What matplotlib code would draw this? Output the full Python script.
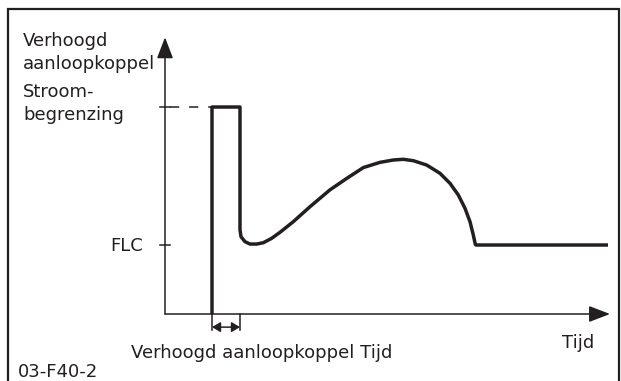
import matplotlib
matplotlib.use("Agg")
import matplotlib.pyplot as plt
from matplotlib.patches import Rectangle

# levels (multiples of full load current) and times (arbitrary units)
flc = 1.0
current_limit = 3.0
boost_start = 4.7
boost_end = 7.5

# torque / current trace during start-up
curve_t = [4.7, 4.7, 7.5, 7.5, 7.6, 8.0, 8.5, 9.17, 9.83, 10.67, 11.5, 12.83,
           14.5, 16.5, 18.17, 19.83, 21.5, 22.83, 23.83, 24.83, 26.17, 27.5,
           28.5, 29.33, 30.0, 30.5, 30.83, 31.03, 31.1, 44.3]
curve_y = [0.0, 3.0, 3.0, 1.22, 1.12, 1.048, 1.014, 1.014, 1.033, 1.097, 1.184,
           1.338, 1.555, 1.8, 1.965, 2.122, 2.198, 2.232, 2.242, 2.222, 2.159,
           2.039, 1.894, 1.725, 1.532, 1.338, 1.145, 1.01, 1.0, 1.0]

x_axis_end = 44.5
y_axis_end = 4.01

ink = "#231f20"
plt.rcParams['font.family'] = ['DejaVu Sans']
fs = 13

fig = plt.figure(figsize=(6.21, 3.81), dpi=100)
ax = fig.add_axes([0, 0, 1, 1])
ax.set_xlim(-16.5, 45.6)
ax.set_ylim(-0.971, 4.551)
ax.axis("off")

# outer frame (open at the bottom)
fig.patches.append(Rectangle((8 / 621, -0.1), 611 / 621, 1.1 - 9 / 381,
                             transform=fig.transFigure, fill=False,
                             lw=1.6, edgecolor=ink))

# axes with arrow heads
arrow = dict(arrowstyle="-|>,head_length=1.3,head_width=0.5",
             mutation_scale=10, lw=1.1, color=ink, shrinkA=0, shrinkB=0)
ax.annotate("", xy=(0, y_axis_end), xytext=(0, 0), arrowprops=arrow)
ax.annotate("", xy=(x_axis_end, 0), xytext=(0, 0), arrowprops=arrow)

# ticks on the y axis
for lvl in (flc, current_limit):
    ax.plot([-0.5, 0.5], [lvl, lvl], color=ink, lw=1.1)
ax.plot([0.5, boost_start], [current_limit, current_limit], color=ink, lw=1.1,
        dashes=(6, 6.5))

# boost time marker below the axis
for t in (boost_start, boost_end):
    ax.plot([t, t], [0, -0.23], color=ink, lw=1.1)
ax.annotate("", xy=(boost_end, -0.19), xytext=(boost_start, -0.19),
            arrowprops=dict(arrowstyle="<|-|>,head_length=0.5,head_width=0.3",
                            mutation_scale=10, lw=1.1, color=ink,
                            shrinkA=0, shrinkB=0))

# main trace
ax.plot(curve_t, curve_y, color=ink, lw=2.5, solid_joinstyle="round",
        solid_capstyle="butt")

# labels
ax.text(-14.2, 3.55, "Verhoogd\naanloopkoppel", fontsize=fs, color=ink,
        ha="left", va="baseline", linespacing=1.35)
ax.text(-14.2, 2.81, "Stroom-\nbegrenzing", fontsize=fs, color=ink,
        ha="left", va="baseline", linespacing=1.35)
ax.text(-2.2, flc - 0.09, "FLC", fontsize=fs, color=ink, ha="right",
        va="baseline")
ax.text(-3.4, -0.64, "Verhoogd aanloopkoppel Tijd", fontsize=fs, color=ink,
        ha="left", va="baseline")
ax.text(42.9, -0.49, "Tijd", fontsize=fs, color=ink, ha="right",
        va="baseline")
ax.text(-14.7, -0.915, "03-F40-2", fontsize=fs, color=ink, ha="left",
        va="baseline")

fig.savefig("out.png", dpi=100)
